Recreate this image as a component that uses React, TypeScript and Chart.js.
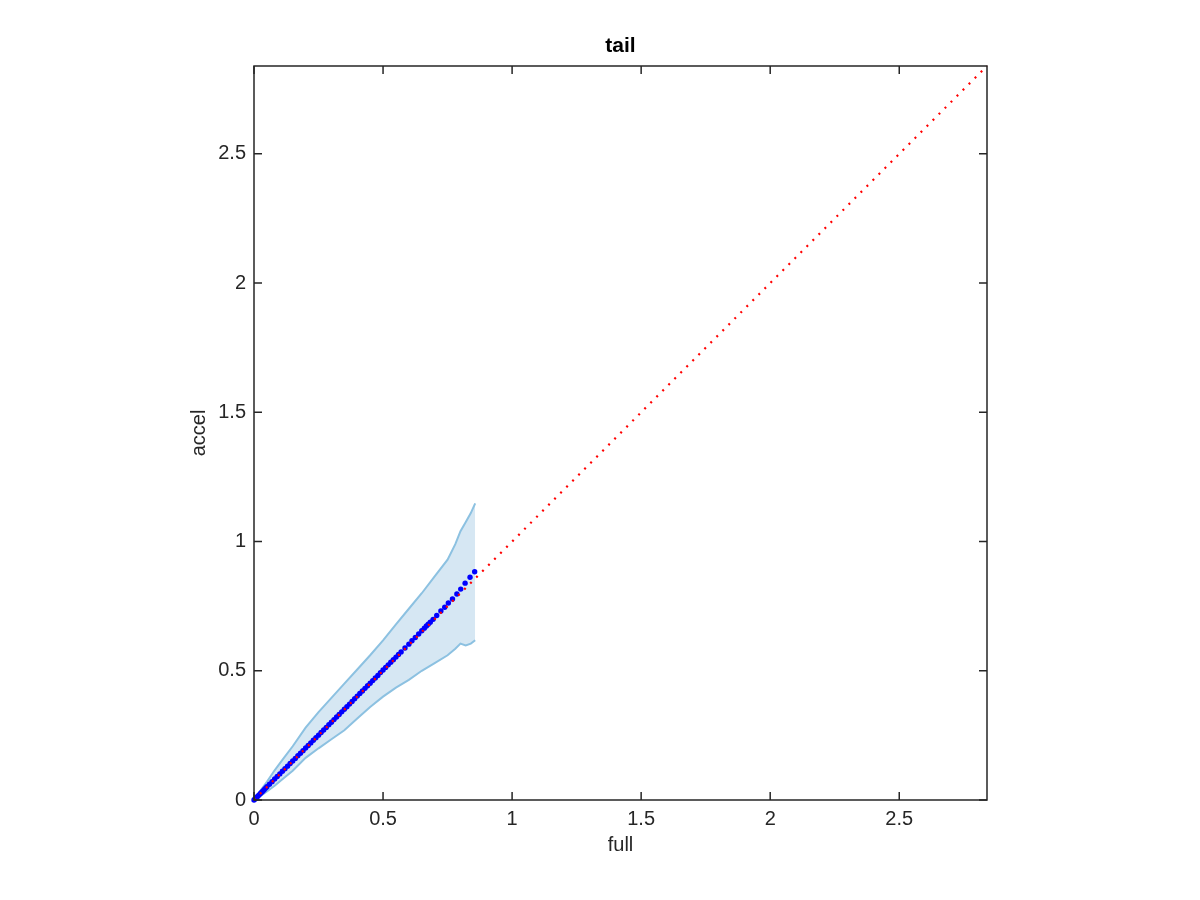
import React, { useEffect, useRef } from "react";
import { Chart, registerables } from "chart.js";

Chart.register(...registerables);

const TITLE = "tail";
const X_LABEL = "full";
const Y_LABEL = "accel";
const AXIS_MAX = 2.84;
const TICKS = [0, 0.5, 1, 1.5, 2, 2.5];

const BAND_X = [0, 0.02, 0.05, 0.08, 0.11, 0.15, 0.2, 0.25, 0.3, 0.35, 0.4, 0.45, 0.5, 0.55, 0.6, 0.65, 0.7, 0.75, 0.78, 0.8, 0.82, 0.84, 0.857];
const BAND_UPPER = [0, 0.03, 0.07, 0.115, 0.155, 0.208, 0.28, 0.34, 0.395, 0.45, 0.505, 0.56, 0.618, 0.68, 0.74, 0.8, 0.865, 0.93, 0.99, 1.04, 1.075, 1.11, 1.148];
const BAND_LOWER = [0, 0.012, 0.033, 0.055, 0.08, 0.113, 0.163, 0.2, 0.235, 0.27, 0.315, 0.36, 0.4, 0.435, 0.465, 0.5, 0.53, 0.56, 0.585, 0.605, 0.598, 0.605, 0.618];

const QQ_X = [0, 0.004, 0.008, 0.012, 0.016, 0.02, 0.025, 0.03, 0.035, 0.04, 0.045, 0.05, 0.06, 0.07, 0.08, 0.09, 0.1, 0.11, 0.12, 0.13, 0.14, 0.15, 0.16, 0.17, 0.18, 0.19, 0.2, 0.21, 0.22, 0.23, 0.24, 0.25, 0.26, 0.27, 0.28, 0.29, 0.3, 0.31, 0.32, 0.33, 0.34, 0.35, 0.36, 0.37, 0.38, 0.39, 0.4, 0.41, 0.42, 0.43, 0.44, 0.45, 0.46, 0.47, 0.48, 0.49, 0.5, 0.51, 0.52, 0.53, 0.54, 0.55, 0.56, 0.57, 0.585, 0.6, 0.612, 0.625, 0.638, 0.65, 0.66, 0.668, 0.675, 0.683, 0.694, 0.708, 0.724, 0.739, 0.753, 0.769, 0.786, 0.801, 0.818, 0.837, 0.855];
const QQ_Y = [0, 0.004, 0.008, 0.012, 0.016, 0.02, 0.025, 0.03, 0.035, 0.041, 0.046, 0.051, 0.061, 0.071, 0.081, 0.091, 0.101, 0.111, 0.121, 0.131, 0.141, 0.151, 0.161, 0.171, 0.181, 0.191, 0.201, 0.211, 0.221, 0.231, 0.241, 0.251, 0.261, 0.271, 0.281, 0.291, 0.301, 0.311, 0.321, 0.331, 0.341, 0.351, 0.361, 0.371, 0.381, 0.392, 0.402, 0.412, 0.422, 0.432, 0.442, 0.452, 0.462, 0.472, 0.482, 0.493, 0.503, 0.513, 0.523, 0.533, 0.543, 0.553, 0.563, 0.573, 0.588, 0.603, 0.616, 0.629, 0.642, 0.655, 0.665, 0.673, 0.68, 0.688, 0.699, 0.714, 0.731, 0.746, 0.762, 0.778, 0.797, 0.816, 0.839, 0.862, 0.883];

const FONT = "'Liberation Sans', Arial, Helvetica, sans-serif";
const AXIS_COLOR = "#262626";

const boxPlugin = {
  id: "matlabBox",
  afterDraw(chart: any) {
    const { ctx, chartArea } = chart;
    const { left, right, top, bottom } = chartArea;
    const xs = chart.scales.x;
    const ys = chart.scales.y;
    ctx.save();
    ctx.strokeStyle = AXIS_COLOR;
    ctx.lineWidth = 1.5;
    ctx.beginPath();
    ctx.rect(left, top, right - left, bottom - top);
    ctx.stroke();
    const tl = 8;
    ctx.beginPath();
    for (const v of TICKS) {
      const px = xs.getPixelForValue(v);
      ctx.moveTo(px, bottom);
      ctx.lineTo(px, bottom - tl);
      ctx.moveTo(px, top);
      ctx.lineTo(px, top + tl);
      const py = ys.getPixelForValue(v);
      ctx.moveTo(left, py);
      ctx.lineTo(left + tl, py);
      ctx.moveTo(right, py);
      ctx.lineTo(right - tl, py);
    }
    ctx.stroke();

    ctx.fillStyle = "#000000";
    ctx.textAlign = "center";
    ctx.textBaseline = "middle";
    ctx.font = `bold 21px ${FONT}`;
    ctx.fillText(TITLE, (left + right) / 2, 46);

    ctx.fillStyle = AXIS_COLOR;
    ctx.font = `20px ${FONT}`;
    ctx.fillText(X_LABEL, (left + right) / 2, 845);
    ctx.translate(199, (top + bottom) / 2);
    ctx.rotate(-Math.PI / 2);
    ctx.fillText(Y_LABEL, 0, 0);
    ctx.restore();
  },
};

export default function App() {
  const ref = useRef<HTMLCanvasElement | null>(null);

  useEffect(() => {
    if (!ref.current) return;
    const chart = new Chart(ref.current, {
      type: "scatter",
      data: {
        datasets: [
          {
            type: "line",
            label: "diag",
            data: [
              { x: 0, y: 0 },
              { x: AXIS_MAX, y: AXIS_MAX },
            ],
            borderColor: "#ff0000",
            borderWidth: 2.2,
            borderDash: [2, 6.5],
            pointRadius: 0,
            fill: false,
            clip: false,
          } as any,
          {
            type: "scatter",
            label: "qq",
            data: QQ_X.map((x, i) => ({ x, y: QQ_Y[i] })),
            backgroundColor: "#0000ff",
            borderColor: "#0000ff",
            borderWidth: 0,
            pointRadius: 2.7,
            clip: false,
          } as any,
          {
            type: "line",
            label: "upper",
            data: BAND_X.map((x, i) => ({ x, y: BAND_UPPER[i] })),
            borderColor: "#8cc1e1",
            borderWidth: 2,
            backgroundColor: "#d6e7f3",
            fill: "+1",
            pointRadius: 0,
            tension: 0,
          } as any,
          {
            type: "line",
            label: "lower",
            data: BAND_X.map((x, i) => ({ x, y: BAND_LOWER[i] })),
            borderColor: "#8cc1e1",
            borderWidth: 2,
            fill: false,
            pointRadius: 0,
            tension: 0,
          } as any,
        ],
      },
      options: {
        responsive: false,
        animation: false,
        devicePixelRatio: 1,
        layout: { padding: { top: 66, right: 213, left: 0, bottom: 0 } },
        plugins: {
          legend: { display: false },
          tooltip: { enabled: false },
          title: { display: false },
          filler: { drawTime: "beforeDatasetsDraw" },
        } as any,
        scales: {
          x: {
            type: "linear",
            position: "bottom",
            min: 0,
            max: AXIS_MAX,
            afterBuildTicks: (s: any) => {
              s.ticks = TICKS.map((v) => ({ value: v }));
            },
            afterFit: (s: any) => {
              s.height = 100;
            },
            ticks: {
              color: AXIS_COLOR,
              font: { family: FONT, size: 20 },
              padding: 7,
              maxRotation: 0,
              autoSkip: false,
              callback: (v: any) => String(v),
            },
            grid: { display: false, drawTicks: false },
            border: { display: false },
          },
          y: {
            type: "linear",
            position: "left",
            min: 0,
            max: AXIS_MAX,
            afterBuildTicks: (s: any) => {
              s.ticks = TICKS.map((v) => ({ value: v }));
            },
            afterFit: (s: any) => {
              s.width = 254;
            },
            ticks: {
              color: AXIS_COLOR,
              font: { family: FONT, size: 20 },
              padding: 8,
              autoSkip: false,
              callback: (v: any) => String(v),
            },
            grid: { display: false, drawTicks: false },
            border: { display: false },
          },
        },
      },
      plugins: [boxPlugin],
    });
    return () => chart.destroy();
  }, []);

  return (
    <div style={{ position: "absolute", left: 0, top: 0, width: 1200, height: 900, background: "#ffffff" }}>
      <canvas ref={ref} width={1200} height={900} style={{ display: "block" }} />
    </div>
  );
}
